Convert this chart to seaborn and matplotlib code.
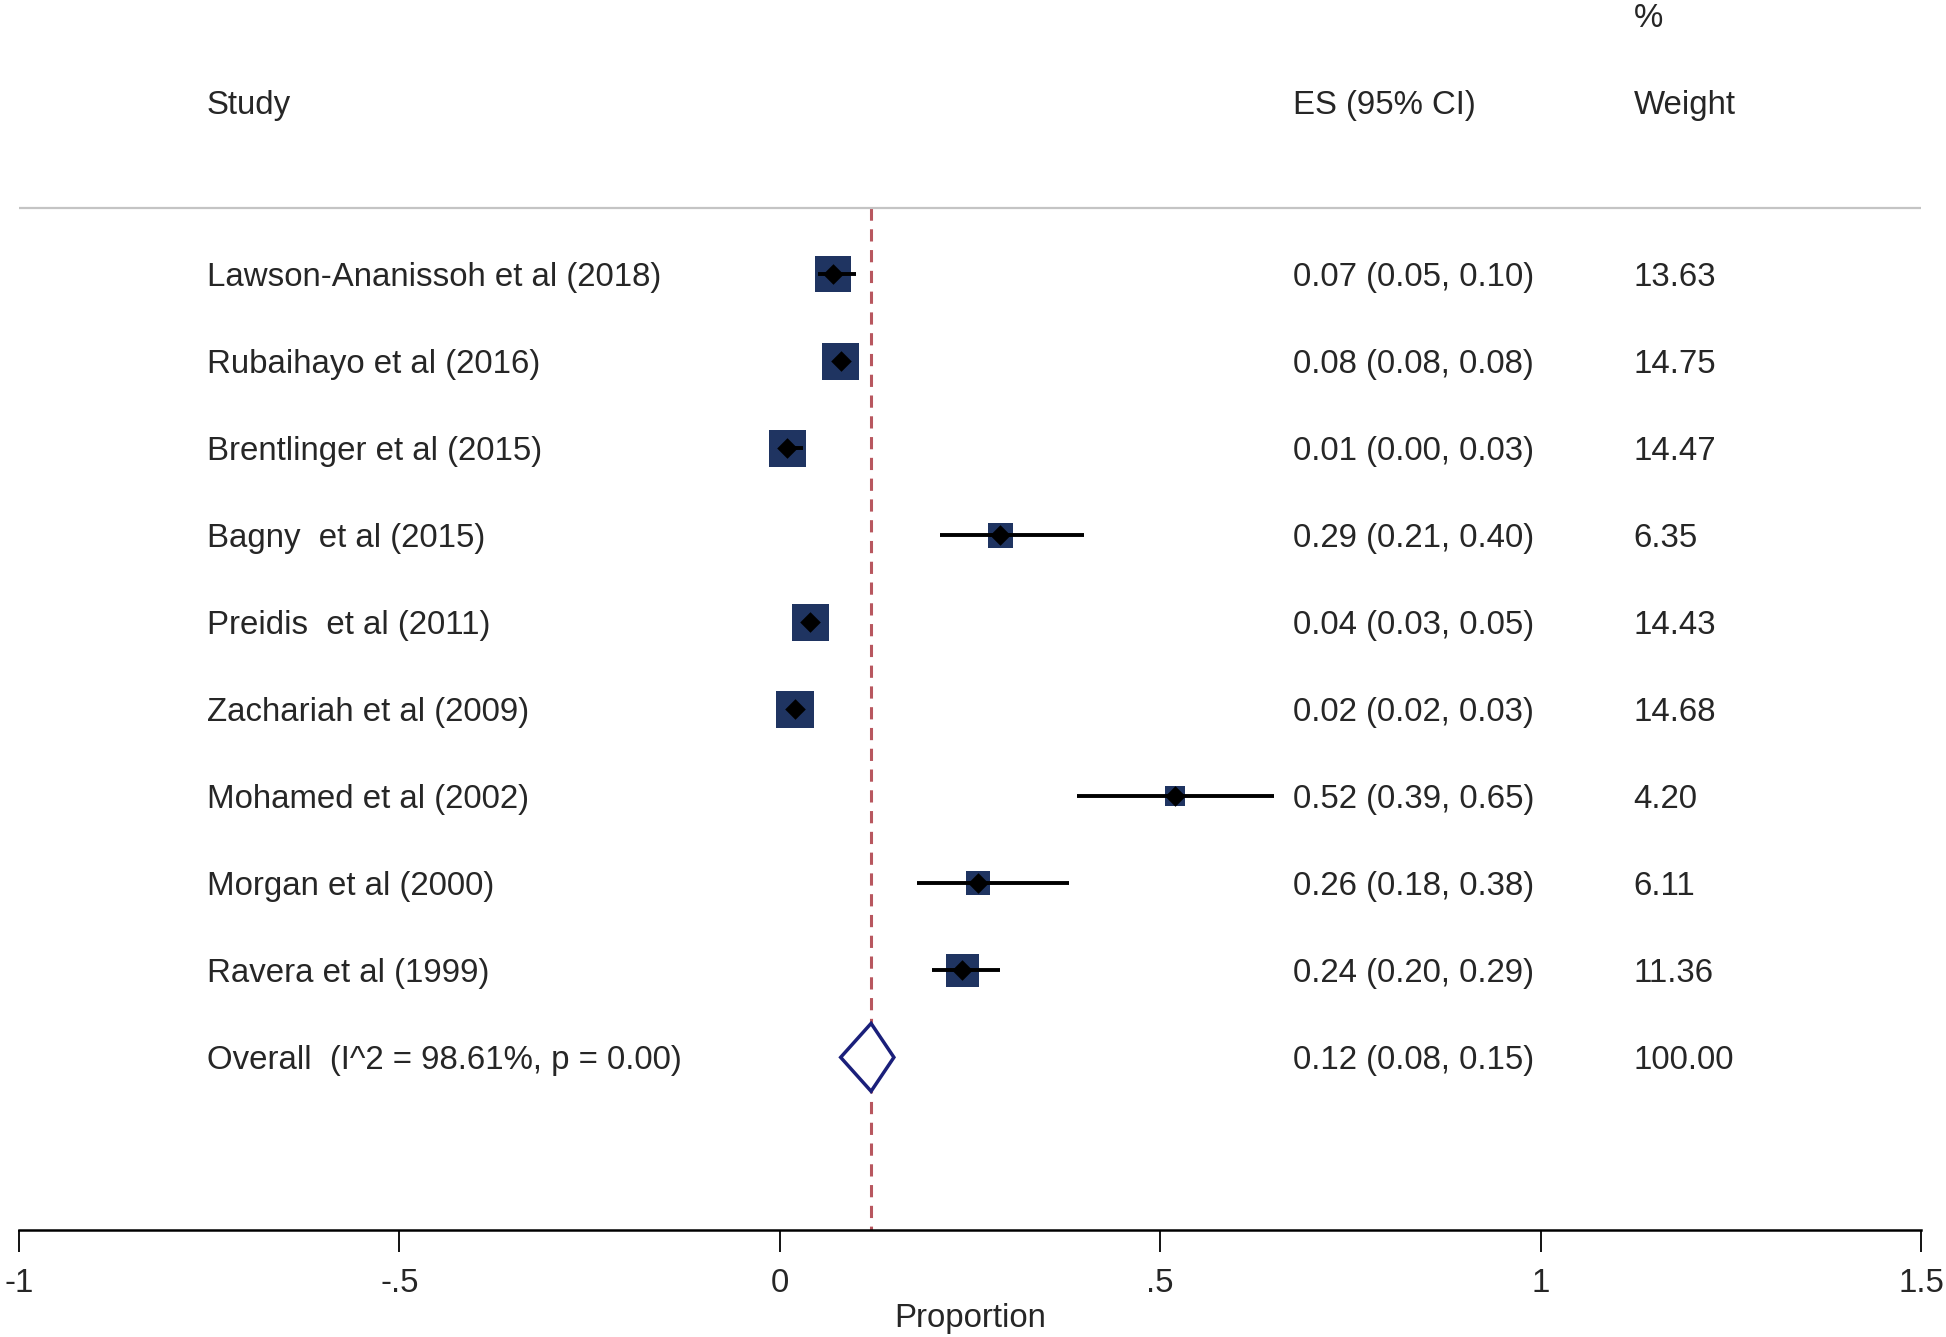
import numpy as np
import pandas as pd
import matplotlib
matplotlib.use('Agg')
import matplotlib.pyplot as plt
import seaborn as sns

# data
studies = ['Lawson-Ananissoh et al (2018)', 'Rubaihayo et al (2016)', 'Brentlinger et al (2015)',
           'Bagny  et al (2015)', 'Preidis  et al (2011)', 'Zachariah et al (2009)',
           'Mohamed et al (2002)', 'Morgan et al (2000)', 'Ravera et al (1999)']
es = [0.07, 0.08, 0.01, 0.29, 0.04, 0.02, 0.52, 0.26, 0.24]
ci_lo = [0.05, 0.08, 0.00, 0.21, 0.03, 0.02, 0.39, 0.18, 0.20]
ci_hi = [0.10, 0.08, 0.03, 0.40, 0.05, 0.03, 0.65, 0.38, 0.29]
weights = [13.63, 14.75, 14.47, 6.35, 14.43, 14.68, 4.20, 6.11, 11.36]

overall_label = 'Overall  (I^2 = 98.61%, p = 0.00)'
overall_es, overall_lo, overall_hi, overall_w = 0.12, 0.08, 0.15, 100.00

xticks = [-1, -0.5, 0, 0.5, 1, 1.5]
xticklabels = ['-1', '-.5', '0', '.5', '1', '1.5']

df = pd.DataFrame({'study': studies, 'es': es, 'lo': ci_lo, 'hi': ci_hi, 'w': weights})
df['row'] = np.arange(1, len(df) + 1)
overall_row = len(df) + 1

sns.set_style('white')
plt.rcParams['font.family'] = ['Liberation Sans', 'DejaVu Sans']
FS = 23.8

fig = plt.figure(figsize=(19.46, 13.37), dpi=100)
ax = fig.add_axes([0.00976, 0.080, 0.9774, 0.920])

# weighted squares
sns.scatterplot(data=df, x='es', y='row', size='w', sizes=(0, 49.3 * 100), size_norm=(0, 100),
                marker='s', color='#1f3461', linewidth=0, legend=False, ax=ax, zorder=2)
# confidence intervals
ax.hlines(df['row'], df['lo'], df['hi'], color='black', lw=2.8, zorder=3)
# point estimates
ax.scatter(df['es'], df['row'], marker='D', s=110, color='black', linewidth=0, zorder=4)

# overall diamond
h = 0.39
ax.fill([overall_lo, overall_es, overall_hi, overall_es],
        [overall_row, overall_row - h, overall_row, overall_row + h],
        facecolor='white', edgecolor='#1a1f7a', lw=2.5, zorder=3)

# overall line
header_y = 0.238
ax.vlines(overall_es, header_y, 11.985, color='#b8575f', lw=2.2, linestyles=(0, (4, 2.8)), zorder=1)

# header
ax.axhline(header_y, color='#c4c4c4', lw=1.6, zorder=1)
col_study, col_es, col_w = -0.753, 0.675, 1.122
va = 'center_baseline'
ax.text(col_study, -0.98, 'Study', fontsize=FS, va=va, ha='left')
ax.text(col_es, -0.98, 'ES (95% CI)', fontsize=FS, va=va, ha='left')
ax.text(col_w, -0.98, 'Weight', fontsize=FS, va=va, ha='left')
ax.text(col_w, -1.98, '%', fontsize=FS, va=va, ha='left')

for _, r in df.iterrows():
    ax.text(col_study, r['row'], r['study'], fontsize=FS, va=va, ha='left')
    ax.text(col_es, r['row'], f"{r['es']:.2f} ({r['lo']:.2f}, {r['hi']:.2f})", fontsize=FS, va=va, ha='left')
    ax.text(col_w, r['row'], f"{r['w']:.2f}", fontsize=FS, va=va, ha='left')

ax.text(col_study, overall_row, overall_label, fontsize=FS, va=va, ha='left')
ax.text(col_es, overall_row, f"{overall_es:.2f} ({overall_lo:.2f}, {overall_hi:.2f})", fontsize=FS, va=va, ha='left')
ax.text(col_w, overall_row, f"{overall_w:.2f}", fontsize=FS, va=va, ha='left')

# axes
ax.set_xlim(-1, 1.5)
ax.set_ylim(11.985, -2.153)
ax.set_yticks([])
ax.set_ylabel('')
ax.set_xticks(xticks)
ax.set_xticklabels(xticklabels)
ax.tick_params(axis='x', direction='out', length=16, width=1.3, color='black',
               labelsize=FS, pad=11, bottom=True)
ax.set_xlabel('Proportion', fontsize=FS, labelpad=3)
for s in ['left', 'right', 'top']:
    ax.spines[s].set_visible(False)
ax.spines['bottom'].set_color('black')
ax.spines['bottom'].set_linewidth(1.8)
ax.patch.set_alpha(0)

fig.savefig('out.png', dpi=100)
